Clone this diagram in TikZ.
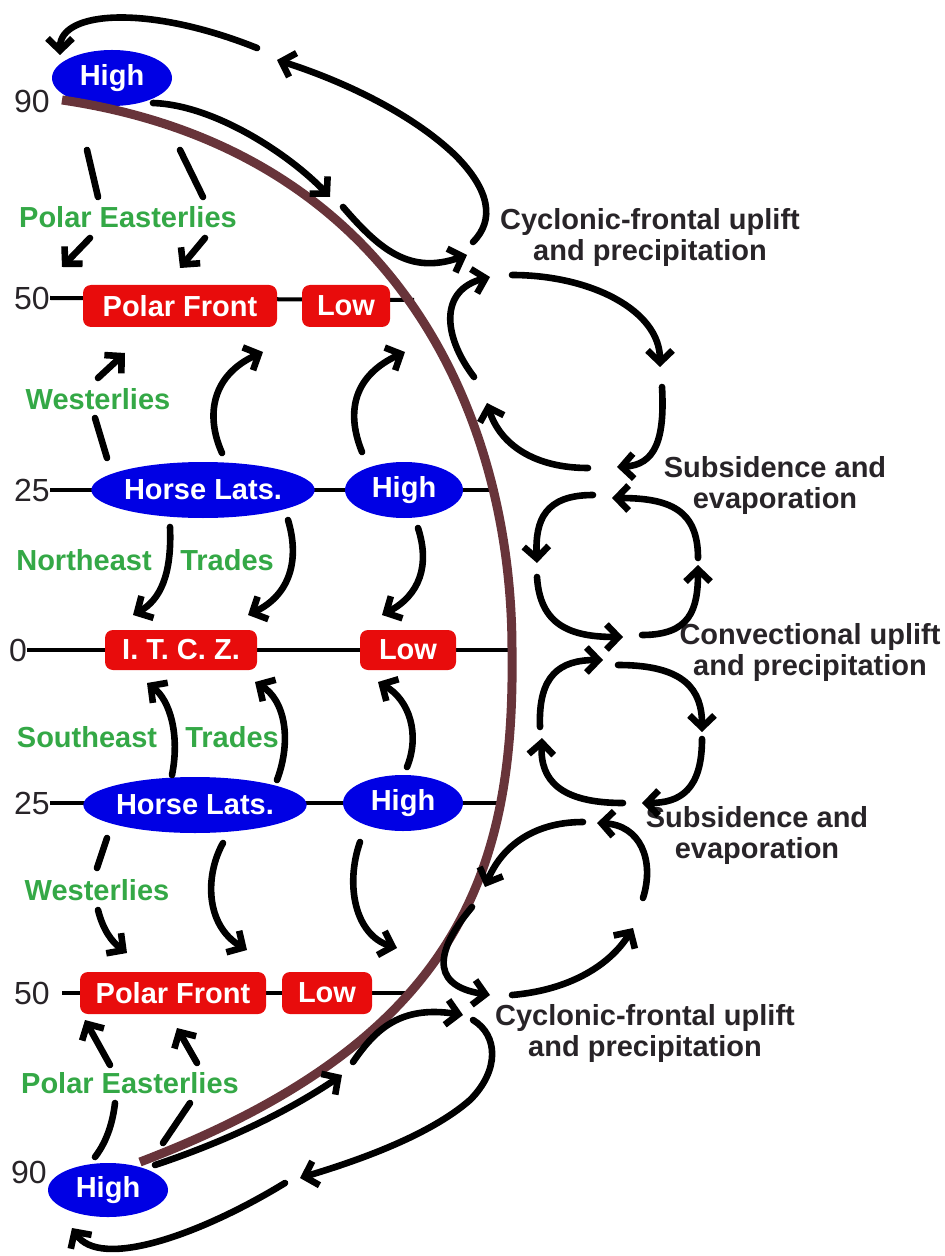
\documentclass[tikz,border=0pt]{standalone}
\usepackage{fontspec}
\setmainfont{Liberation Sans}
\usepackage{xcolor}
\usetikzlibrary{arrows.meta,shapes.geometric}

\definecolor{hiblue}{RGB}{0,0,228}
\definecolor{lored}{RGB}{232,12,12}
\definecolor{windgreen}{RGB}{52,168,70}
\definecolor{rimbrown}{RGB}{104,52,58}
\definecolor{labgray}{RGB}{40,36,40}
\newcommand{\lblfont}{\fontsize{14.5}{15.5}\selectfont}
\newcommand{\numfont}{\fontsize{16}{17}\selectfont}

\begin{document}
\begin{tikzpicture}[
  x=0.5pt, y=-0.5pt,
  high/.style={ellipse, fill=hiblue, text=white, font=\bfseries\lblfont,
    inner sep=0pt, minimum width=60pt, minimum height=28pt},
  low/.style={rectangle, rounded corners=4pt, fill=lored, text=white,
    font=\bfseries\lblfont, inner sep=0pt, minimum height=21pt},
  wind/.style={text=windgreen, font=\bfseries\lblfont},
  note/.style={text=labgray, font=\bfseries\lblfont, align=center},
  latnum/.style={text=labgray, font=\numfont, inner sep=0pt},
  lat/.style={line width=2pt},
  rim/.style={line width=4.5pt, rimbrown},
  arr/.style={line width=3.3pt, line cap=round,
    -{Straight Barb[length=6pt, width=12.5pt]}},
  seg/.style={line width=3.3pt, line cap=round}
]
\useasboundingbox (0,0) rectangle (945,1256);

% Latitude numbers
\node[latnum] (n90N) at (32,101) {90};
\node[latnum] (n50N) at (32,298) {50};
\node[latnum] (n25N) at (32,490) {25};
\node[latnum] (n0) at (18,650) {0};
\node[latnum] (n25S) at (32,803) {25};
\node[latnum] (n50S) at (32,993) {50};
\node[latnum] (n90S) at (29,1172) {90};

% Latitude lines, ending on the earth's rim
\coordinate (a50N) at (414,300);
\coordinate (a25N) at (494,490);
\coordinate (a0) at (512,650);
\coordinate (a25S) at (500,803);
\coordinate (a50S) at (410,993);
\draw[lat] (n50N.east) -- (a50N);
\draw[lat] (n25N.east) -- (a25N);
\draw[lat] (n0.east) -- ++(10,0) -- (a0);
\draw[lat] (n25S.east) -- (a25S);
\draw[lat] ([xshift=6pt]n50S.east) -- (a50S);

% Pressure belts, north
\node[high] (hiN) at (112,78) {High};
\node[low, minimum width=97pt] (pfN) at (180,306) {Polar Front};
\node[low, minimum width=44pt] (loN) at (346,306) {Low};
\node[high, minimum width=110pt] (hlN) at (203,490) {Horse Lats.};
\node[high, minimum width=59pt] (hi25N) at (404,490) {High};

% Equator
\node[low, minimum width=76pt, minimum height=20pt] (itcz) at (181,650) {I. T. C. Z.};
\node[low, minimum width=48pt, minimum height=20pt] (lo0) at (408,650) {Low};

% Pressure belts, south
\node[high, minimum width=110pt] (hlS) at (195,805) {Horse Lats.};
\node[high, minimum width=60pt] (hi25S) at (403,803) {High};
\node[low, minimum width=93pt] (pfS) at (173,993) {Polar Front};
\node[low, minimum width=45pt] (loS) at (327,993) {Low};
\node[high, minimum width=60pt, minimum height=27pt] (hiS) at (108,1190) {High};

% Surface winds
\node[wind] (peN) at (128,217) {Polar Easterlies};
\node[wind] (weN) at (98,399) {Westerlies};
\node[wind] (neT) at (84,560) {Northeast};
\node[wind] (trN) at (227,560) {Trades};
\node[wind] (seT) at (87,737) {Southeast};
\node[wind] (trS) at (232,737) {Trades};
\node[wind] (weS) at (97,890) {Westerlies};
\node[wind] (peS) at (130,1083) {Polar Easterlies};

% Notes on the cells
\node[note] (cfN) at (650,238) {Cyclonic-frontal uplift\\and precipitation};
\node[note] (sbN) at (775,486) {Subsidence and\\evaporation};
\node[note] (cvu) at (810,652) {Convectional uplift\\and precipitation};
\node[note] (sbS) at (757,835) {Subsidence and\\evaporation};
\node[note] (cfS) at (645,1033) {Cyclonic-frontal uplift\\and precipitation};

% Earth's rim
\draw[rim] (62,100) .. controls (400,150) and (512,420) .. (512,650)
  .. controls (515,870) and (460,1040) .. (140,1162);

% Polar cell, north
\draw[arr] (257,48) .. controls (150,5) and (60,10) .. (60,55);
\draw[arr] (473,242) .. controls (495,220) and (490,190) .. (455,155)
  .. controls (410,112) and (340,80) .. (277,60);
\draw[arr] (153,103) .. controls (215,105) and (290,155) .. (330,197);
\draw[arr] (343,207) .. controls (380,250) and (410,275) .. (467,255);

% Polar easterlies, north
\draw[seg] (87,150) -- (98,197);
\draw[arr] (90,238) -- (62,267);
\draw[seg] (180,150) -- (203,197);
\draw[arr] (205,238) -- (180,268);

% Westerlies, north
\draw[seg] (107,458) -- (95,418);
\draw[arr] (98,378) -- (125,353);
\draw[arr] (222,453) .. controls (205,415) and (212,375) .. (263,352);
\draw[arr] (362,452) .. controls (345,410) and (355,375) .. (405,352);

% Northeast trades
\draw[arr] (170,527) .. controls (172,575) and (160,600) .. (133,615);
\draw[arr] (288,520) .. controls (300,560) and (290,595) .. (248,615);
\draw[arr] (418,528) .. controls (430,565) and (420,595) .. (382,615);

% Southeast trades
\draw[arr] (172,775) .. controls (180,735) and (170,700) .. (147,683);
\draw[arr] (277,780) .. controls (292,740) and (285,700) .. (255,682);
\draw[arr] (407,767) .. controls (420,735) and (410,700) .. (378,682);

% Westerlies, south
\draw[seg] (107,838) -- (97,868);
\draw[arr] (98,910) .. controls (103,930) and (112,942) .. (127,953);
\draw[arr] (223,843) .. controls (205,875) and (205,925) .. (247,950);
\draw[arr] (360,842) .. controls (345,885) and (355,935) .. (397,948);

% Polar easterlies, south
\draw[seg] (95,1157) .. controls (108,1140) and (113,1120) .. (115,1103);
\draw[arr] (110,1065) -- (85,1020);
\draw[seg] (163,1143) -- (190,1103);
\draw[arr] (197,1063) -- (177,1028);

% Polar cell, south
\draw[arr] (155,1165) .. controls (230,1140) and (290,1110) .. (342,1075);
\draw[arr] (353,1062) .. controls (375,1030) and (400,1005) .. (463,1015);
\draw[arr] (473,1020) .. controls (498,1035) and (500,1070) .. (470,1100)
  .. controls (430,1135) and (360,1160) .. (300,1178);
\draw[arr] (285,1183) .. controls (200,1235) and (100,1270) .. (72,1228);

% Ferrel cell, north
\draw[arr] (474,377) .. controls (442,335) and (440,290) .. (490,277);
\draw[arr] (512,275) .. controls (590,275) and (660,310) .. (660,367);
\draw[arr] (662,387) .. controls (665,440) and (655,465) .. (617,467);
\draw[arr] (588,468) .. controls (535,468) and (500,445) .. (487,403);

% Hadley cell, north
\draw[arr] (593,495) .. controls (545,495) and (535,520) .. (537,563);
\draw[arr] (537,577) .. controls (540,625) and (570,637) .. (623,637);
\draw[arr] (642,635) .. controls (690,635) and (698,610) .. (698,565);
\draw[arr] (698,558) .. controls (698,510) and (670,498) .. (612,498);

% Hadley cell, south
\draw[arr] (540,727) .. controls (538,675) and (560,660) .. (603,660);
\draw[arr] (618,665) .. controls (685,665) and (702,690) .. (702,732);
\draw[arr] (702,739) .. controls (702,790) and (680,803) .. (642,803);
\draw[arr] (623,803) .. controls (560,803) and (540,780) .. (542,738);

% Ferrel cell, south
\draw[arr] (583,822) .. controls (530,822) and (500,850) .. (485,887);
\draw[arr] (472,907) .. controls (440,945) and (425,985) .. (490,995);
\draw[arr] (512,995) .. controls (570,990) and (610,965) .. (633,928);
\draw[arr] (643,898) .. controls (655,860) and (640,825) .. (597,823);

\end{tikzpicture}
\end{document}
